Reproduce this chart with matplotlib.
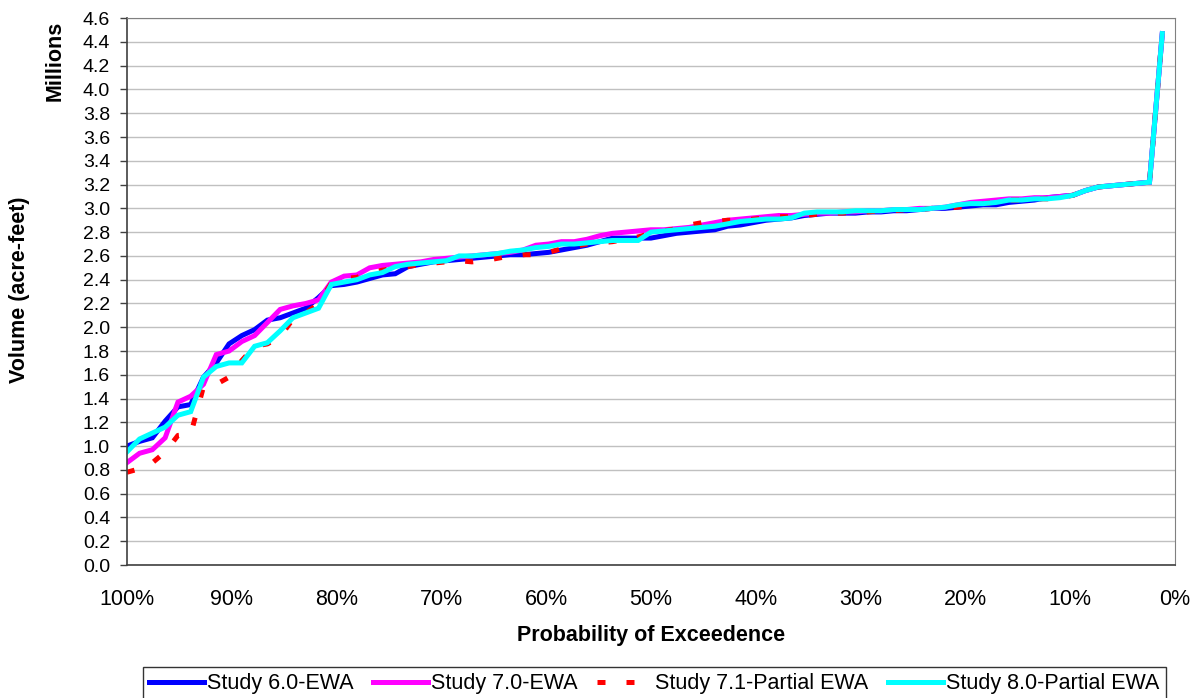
import matplotlib
matplotlib.use('Agg')
import matplotlib.pyplot as plt
from matplotlib.ticker import MultipleLocator, FuncFormatter

plt.rcParams['font.family'] = ['Liberation Sans', 'DejaVu Sans']

# ---- data (millions of acre-feet, sorted by rank) ----
N_YEARS = 82
prob = [(N_YEARS - i) / N_YEARS for i in range(N_YEARS)]

study_60 = [1.00, 1.04, 1.07, 1.21, 1.33, 1.35, 1.58, 1.70, 1.86, 1.93,
            1.98, 2.06, 2.08, 2.12, 2.16, 2.25, 2.35, 2.36, 2.38, 2.41,
            2.44, 2.45, 2.51, 2.53, 2.55, 2.56, 2.57, 2.58, 2.59, 2.60,
            2.61, 2.61, 2.62, 2.63, 2.65, 2.67, 2.69, 2.72, 2.75, 2.75,
            2.75, 2.75, 2.77, 2.79, 2.80, 2.81, 2.82, 2.85, 2.86, 2.88,
            2.90, 2.91, 2.92, 2.94, 2.95, 2.96, 2.96, 2.96, 2.97, 2.97,
            2.98, 2.98, 2.99, 3.00, 3.00, 3.01, 3.02, 3.03, 3.03, 3.05,
            3.06, 3.07, 3.09, 3.10, 3.11, 3.15, 3.18, 3.19, 3.20, 3.21,
            3.22, 4.47]

study_70 = [0.86, 0.94, 0.97, 1.07, 1.37, 1.42, 1.52, 1.77, 1.80, 1.88,
            1.93, 2.04, 2.15, 2.18, 2.20, 2.23, 2.38, 2.43, 2.44, 2.50,
            2.52, 2.53, 2.54, 2.55, 2.57, 2.58, 2.59, 2.60, 2.61, 2.62,
            2.63, 2.65, 2.69, 2.70, 2.72, 2.72, 2.74, 2.77, 2.79, 2.80,
            2.81, 2.82, 2.82, 2.83, 2.84, 2.86, 2.88, 2.90, 2.91, 2.92,
            2.93, 2.94, 2.94, 2.95, 2.96, 2.96, 2.97, 2.97, 2.98, 2.98,
            2.99, 2.99, 3.00, 3.00, 3.01, 3.03, 3.05, 3.06, 3.07, 3.08,
            3.08, 3.09, 3.09, 3.10, 3.11, 3.15, 3.18, 3.19, 3.20, 3.21,
            3.22, 4.47]

study_71 = [0.78, 0.81, 0.86, 0.95, 1.09, 1.10, 1.50, 1.52, 1.58, 1.72,
            1.84, 1.86, 1.92, 2.07, 2.12, 2.20, 2.37, 2.41, 2.42, 2.46,
            2.48, 2.50, 2.51, 2.53, 2.54, 2.55, 2.56, 2.55, 2.56, 2.58,
            2.60, 2.61, 2.61, 2.63, 2.66, 2.68, 2.70, 2.71, 2.72, 2.74,
            2.76, 2.79, 2.81, 2.83, 2.86, 2.88, 2.89, 2.90, 2.90, 2.91,
            2.92, 2.93, 2.93, 2.94, 2.95, 2.96, 2.96, 2.97, 2.97, 2.98,
            2.98, 2.99, 2.99, 3.00, 3.00, 3.01, 3.02, 3.04, 3.05, 3.07,
            3.07, 3.08, 3.08, 3.09, 3.11, 3.15, 3.18, 3.19, 3.20, 3.21,
            3.22, 4.47]

study_80 = [0.95, 1.06, 1.11, 1.16, 1.26, 1.29, 1.58, 1.67, 1.70, 1.70,
            1.84, 1.87, 1.97, 2.08, 2.12, 2.16, 2.36, 2.38, 2.40, 2.44,
            2.46, 2.51, 2.53, 2.54, 2.55, 2.56, 2.60, 2.60, 2.61, 2.62,
            2.64, 2.65, 2.67, 2.68, 2.70, 2.70, 2.71, 2.72, 2.73, 2.73,
            2.73, 2.80, 2.81, 2.82, 2.83, 2.84, 2.85, 2.87, 2.89, 2.90,
            2.91, 2.91, 2.92, 2.96, 2.97, 2.97, 2.97, 2.98, 2.98, 2.98,
            2.99, 2.99, 2.99, 3.00, 3.01, 3.03, 3.04, 3.04, 3.05, 3.07,
            3.07, 3.08, 3.08, 3.09, 3.11, 3.15, 3.18, 3.19, 3.20, 3.21,
            3.22, 4.47]

labels = ['Study 6.0-EWA', 'Study 7.0-EWA', 'Study 7.1-Partial EWA',
          'Study 8.0-Partial EWA']
# -------------------------------------------------------

FS = 15.5

fig = plt.figure(figsize=(11.96, 6.98), dpi=100)
ax = fig.add_axes([0.106, 0.1905, 0.8765, 0.7835])

ln60, = ax.plot(prob, study_60, color='#0000ff', lw=3.6, solid_joinstyle='miter')
ln70, = ax.plot(prob, study_70, color='#ff00ff', lw=3.6, solid_joinstyle='miter')
ln71, = ax.plot(prob, study_71, color='#ff0000', lw=3.6,
                linestyle=(0, (1.6, 4.2)), dash_capstyle='butt')
ln80, = ax.plot(prob, study_80, color='#00ffff', lw=3.6, solid_joinstyle='miter')

ax.set_xlim(1.0, 0.0)
ax.set_ylim(0, 4.6)
ax.xaxis.set_major_locator(MultipleLocator(0.1))
ax.xaxis.set_major_formatter(FuncFormatter(lambda v, _: f"{v * 100:.0f}%"))
ax.yaxis.set_major_locator(MultipleLocator(0.2))
ax.yaxis.set_major_formatter(FuncFormatter(lambda v, _: f"{v:.1f}"))

ax.grid(True, axis='y', color='#c0c0c0', lw=1)
ax.set_axisbelow(True)

for side in ['top', 'right']:
    ax.spines[side].set_color('#808080')
for side in ['left', 'bottom']:
    ax.spines[side].set_color('#404040')
    ax.spines[side].set_linewidth(1.2)

ax.tick_params(axis='y', labelsize=14, length=5, width=1, color='#404040', pad=7)
ax.tick_params(axis='x', labelsize=FS, length=0, pad=17)

ax.set_xlabel('Probability of Exceedence', fontsize=FS, fontweight='bold', labelpad=11)
fig.text(0.016, 0.585, 'Volume (acre-feet)', rotation=90, fontsize=FS,
         fontweight='bold', ha='center', va='center')
fig.text(0.046, 0.913, 'Millions', rotation=90, fontsize=FS,
         fontweight='bold', ha='center', va='center')

leg = fig.legend([ln60, ln70, ln71, ln80], labels, loc='upper center',
                 bbox_to_anchor=(0.547, 1 - 667 / 698), borderaxespad=0,
                 ncol=4, fontsize=FS, frameon=True, fancybox=False,
                 edgecolor='black', handlelength=2.55, handletextpad=0.15,
                 columnspacing=0.9, borderpad=0.3)
leg.get_frame().set_linewidth(1.0)

fig.savefig('out.png', dpi=100)
